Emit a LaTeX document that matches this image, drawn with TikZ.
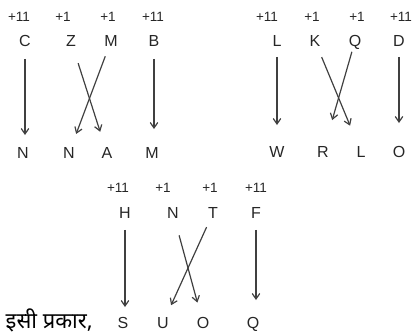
\documentclass[tikz,border=0pt]{standalone}
\usepackage{fontspec}
\setmainfont{Liberation Sans}
\newfontfamily\hindifont[Script=Devanagari]{Noto Sans}
\usetikzlibrary{arrows.meta}

\begin{document}
\begin{tikzpicture}[x=1pt,y=-1pt,>={Straight Barb[length=5.5pt,width=7.5pt]},
  incr/.style={inner sep=0pt,font=\fontsize{13.5}{15}\selectfont,text=black!85},
  letter/.style={inner sep=0pt,text height=11.5pt,text depth=0pt,font=\fontsize{16}{18}\selectfont,text=black!85},
  link/.style={->,black!75,line width=1.2pt}]
  \useasboundingbox (0,0) rectangle (415,335);
  % first word
  \node[incr] (g1n1) at (19,17) {+11};
  \node[incr] (g1n2) at (63,17) {+1};
  \node[incr] (g1n3) at (108,17) {+1};
  \node[incr] (g1n4) at (153,17) {+11};
  \node[letter] (g1t1) at (25,41) {C};
  \node[letter] (g1t2) at (71,41) {Z};
  \node[letter] (g1t3) at (111,41) {M};
  \node[letter] (g1t4) at (154,41) {B};
  \node[letter] (g1b1) at (23,153) {N};
  \node[letter] (g1b2) at (69,153) {N};
  \node[letter] (g1b3) at (107,153) {A};
  \node[letter] (g1b4) at (152,153) {M};
  \draw[link,shorten <=12pt,shorten >=12pt] (g1t1) -- (g1t1 |- g1b1.north);
  \draw[link,shorten <=17pt,shorten >=16pt] (g1t2) -- (g1b3);
  \draw[link,shorten <=10pt,shorten >=14pt] (g1t3) -- (g1b2);
  \draw[link,shorten <=12pt,shorten >=18pt] (g1t4) -- (g1t4 |- g1b4.north);
  % second word
  \node[incr] (g2n1) at (267,17) {+11};
  \node[incr] (g2n2) at (312,17) {+1};
  \node[incr] (g2n3) at (357,17) {+1};
  \node[incr] (g2n4) at (401,17) {+11};
  \node[letter] (g2t1) at (277,41) {L};
  \node[letter] (g2t2) at (315,41) {K};
  \node[letter] (g2t3) at (355,41) {Q};
  \node[letter] (g2t4) at (399,41) {D};
  \node[letter] (g2b1) at (277,152) {W};
  \node[letter] (g2b2) at (323,152) {R};
  \node[letter] (g2b3) at (361,152) {L};
  \node[letter] (g2b4) at (399,152) {O};
  \draw[link,shorten <=10pt,shorten >=21pt] (g2t1) -- (g2t1 |- g2b1.north);
  \draw[link,shorten <=11pt,shorten >=22pt] (g2t2) -- (g2b3);
  \draw[link,shorten <=5pt,shorten >=27pt] (g2t3) -- (g2b2);
  \draw[link,shorten <=10pt,shorten >=23pt] (g2t4) -- (g2t4 |- g2b4.north);
  % third word
  \node[incr] (g3n1) at (118,188) {+11};
  \node[incr] (g3n2) at (163,188) {+1};
  \node[incr] (g3n3) at (210,188) {+1};
  \node[incr] (g3n4) at (256,188) {+11};
  \node[letter] (g3t1) at (125,213) {H};
  \node[letter] (g3t2) at (173,213) {N};
  \node[letter] (g3t3) at (213,213) {T};
  \node[letter] (g3t4) at (256,213) {F};
  \node[letter] (g3b1) at (123,323) {S};
  \node[letter] (g3b2) at (163,323) {U};
  \node[letter] (g3b3) at (203,323) {O};
  \node[letter] (g3b4) at (253,323) {Q};
  \draw[link,shorten <=11pt,shorten >=10pt] (g3t1) -- (g3t1 |- g3b1.north);
  \draw[link,shorten <=17pt,shorten >=15pt] (g3t2) -- (g3b3);
  \draw[link,shorten <=9pt,shorten >=13pt] (g3t3) -- (g3b2);
  \draw[link,shorten <=11pt,shorten >=17pt] (g3t4) -- (g3t4 |- g3b4.north);
  \node[anchor=base east,inner sep=0pt,font=\hindifont\fontsize{22}{24}\selectfont] (lead) at (93,328) {इसी प्रकार,};
\end{tikzpicture}
\end{document}
